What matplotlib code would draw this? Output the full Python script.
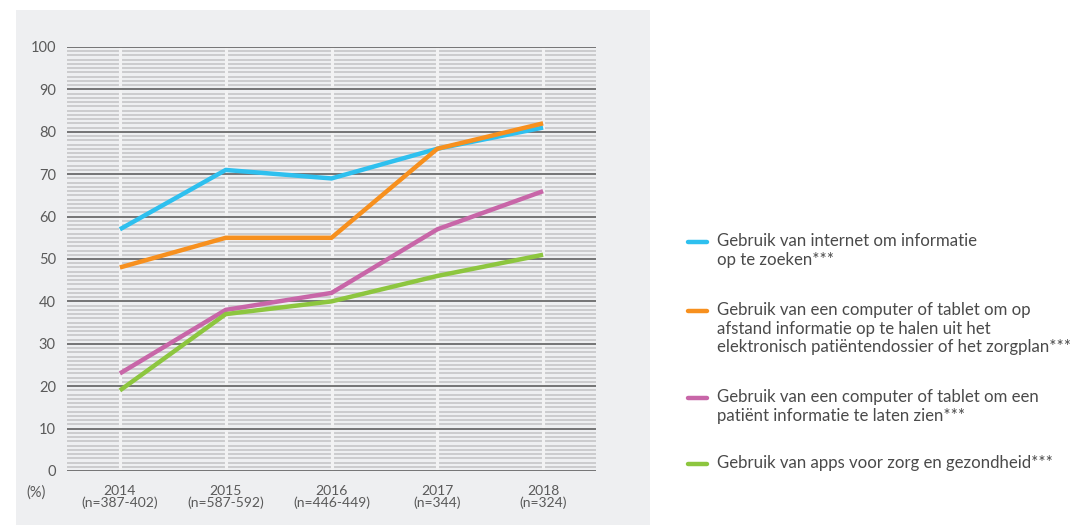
import matplotlib
matplotlib.use("Agg")
import matplotlib.pyplot as plt
from matplotlib.lines import Line2D

years = ["2014", "2015", "2016", "2017", "2018"]
sample_sizes = ["(n=387-402)", "(n=587-592)", "(n=446-449)", "(n=344)", "(n=324)"]

internet_info = [57, 71, 69, 76, 81]
remote_dossier = [48, 55, 55, 76, 82]
show_patient = [23, 38, 42, 57, 66]
care_apps = [19, 37, 40, 46, 51]

series_labels = [
    "Gebruik van internet om informatie\nop te zoeken***",
    "Gebruik van een computer of tablet om op\nafstand informatie op te halen uit het\nelektronisch patiëntendossier of het zorgplan***",
    "Gebruik van een computer of tablet om een\npatiënt informatie te laten zien***",
    "Gebruik van apps voor zorg en gezondheid***",
]
series_colors = ["#2ec0ef", "#f7901e", "#c866a8", "#8dc63f"]

plt.rcParams["font.family"] = ["Lato", "DejaVu Sans"]
text_color = "#5a5a5a"

W, H = 1078, 525
fig = plt.figure(figsize=(W / 100, H / 100), dpi=100)
fig.patch.set_facecolor("white")

# light grey panel behind the chart
panel = fig.add_axes([16 / W, 0, (650 - 16) / W, 1 - 10 / H], zorder=0)
panel.set_facecolor("#eeeff1")
panel.set_xticks([])
panel.set_yticks([])
for s in panel.spines.values():
    s.set_visible(False)

ax = fig.add_axes([67 / W, 1 - 471 / H, (596 - 67) / W, (471 - 47) / H], zorder=1)
ax.set_facecolor("none")
x = list(range(len(years)))
ax.set_xlim(-0.5, len(years) - 0.5)
ax.set_ylim(0, 100)

# fine horizontal ruling every unit, darker ruling every ten
for v in range(0, 101):
    if v % 10:
        ax.axhline(v, color="#c9c9cb", lw=1.3, zorder=1)
for xi in x:
    ax.axvline(xi, color="#f2f2f3", lw=2.2, zorder=2)
for v in range(0, 101, 10):
    ax.axhline(v, color="#6b6b6b", lw=1.3, zorder=3)

series = [internet_info, remote_dossier, show_patient, care_apps]
for vals, col in zip(series, series_colors):
    ax.plot(x, vals, color=col, lw=3.2, solid_capstyle="butt", zorder=5)

for s in ax.spines.values():
    s.set_visible(False)
ax.set_yticks(range(0, 101, 10))
ax.set_yticklabels([str(v) for v in range(0, 101, 10)])
ax.set_xticks(x)
ax.set_xticklabels([f"{y}\n{n}" for y, n in zip(years, sample_sizes)],
                   linespacing=1.0)
ax.tick_params(axis="both", length=0, colors=text_color, labelsize=10)
ax.tick_params(axis="y", pad=8, labelsize=10.5)
ax.tick_params(axis="x", pad=10)
ax.text(-0.04, -0.05, "(%)", transform=ax.transAxes, ha="right", va="center",
        color=text_color, fontsize=10.5)

# legend block on the right
entries_y = [242, 311, 398, 464]
for lab, col, yy in zip(series_labels, series_colors, entries_y):
    fy = 1 - yy / H
    fig.add_artist(Line2D([688 / W, 707 / W], [fy, fy], color=col, lw=3.2,
                          transform=fig.transFigure, solid_capstyle="round"))
    fig.text(717 / W, fy + 9 / H, lab, ha="left", va="top",
             color="#4a4a4a", fontsize=12.1, linespacing=1.2)

fig.savefig("out.png", dpi=100)
